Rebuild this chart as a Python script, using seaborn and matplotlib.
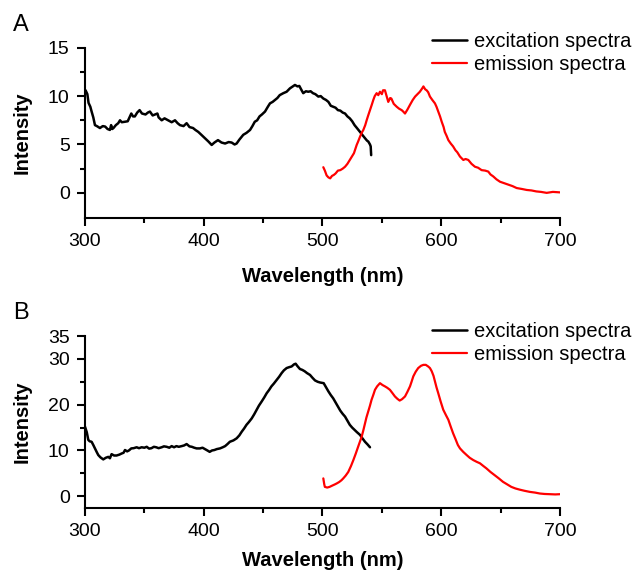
import numpy as np
import pandas as pd
import matplotlib
matplotlib.use('Agg')
import matplotlib.pyplot as plt
import seaborn as sns

# === Data ===
# Panel A - excitation
wl_ex_a = [300.5, 302, 303, 304.5, 305.6, 307, 308.4, 310, 312.6, 315, 317, 319, 321, 322, 323, 324, 326, 328,
           329.5, 331, 333.7, 336, 339, 340.5, 342, 344, 346, 348, 351, 353, 354.7, 357, 359, 361, 362, 364.6,
           367, 370, 373, 375.8, 378, 380, 383, 385.6, 388, 391, 393, 395.4, 398, 401, 404, 406.7, 409, 412,
           415, 418, 421, 423.5, 426, 427.7, 430, 433.3, 436, 439, 441, 443, 445, 447, 449, 451.6, 454, 455.8,
           458, 460, 462, 464, 467, 469.8, 472.6, 475, 476.8, 479, 480.5, 482, 483.8, 486, 488, 490, 492, 494,
           496.5, 498.5, 500.7, 503, 505, 507, 509, 511, 513, 515, 517, 519, 521, 523, 525, 527, 529, 531.6,
           533.5, 535.8, 537.5, 538.6, 540, 540.6, 541]
int_ex_a = [10.6, 10.2, 9.3, 8.9, 8.4, 7.8, 7.0, 6.9, 6.7, 6.9, 6.85, 6.6, 6.5, 7.0, 6.6, 6.7, 7.0, 7.2,
            7.5, 7.3, 7.35, 7.4, 8.2, 7.9, 7.9, 8.3, 8.55, 8.2, 8.1, 8.3, 8.4, 8.0, 8.1, 8.2, 7.8, 7.5,
            7.7, 7.5, 7.3, 7.5, 7.2, 7.0, 6.9, 7.2, 6.8, 6.7, 6.5, 6.3, 6.0, 5.65, 5.3, 4.95, 5.2, 5.45,
            5.2, 5.1, 5.25, 5.2, 5.0, 5.1, 5.5, 6.0, 6.2, 6.5, 6.9, 7.35, 7.5, 7.9, 8.1, 8.4, 8.9, 9.25,
            9.4, 9.6, 9.8, 10.1, 10.3, 10.45, 10.8, 11.0, 11.15, 11.0, 11.05, 10.7, 10.3, 10.5, 10.45, 10.5, 10.3, 10.2,
            9.95, 10.0, 9.75, 9.6, 9.4, 9.0, 8.9, 8.8, 8.55, 8.5, 8.3, 8.2, 7.9, 7.7, 7.4, 7.0, 6.7, 6.3,
            6.0, 5.65, 5.4, 5.3, 5.0, 4.8, 3.9]

# Panel A - emission
wl_em_a = [500.7, 502, 503.5, 505, 506.5, 508, 509.5, 511, 513, 515, 517, 519, 521, 523, 525, 526.5, 528.8, 530,
           531.6, 533, 534.4, 536, 537.2, 538.5, 540, 541.5, 542.8, 544, 545.6, 547, 548.4, 550, 551, 552.6,
           554, 555.4, 557, 558, 560, 562.5, 564.5, 566.7, 568, 569.5, 571.5, 573.7, 576, 578, 580, 582, 584,
           585, 586.5, 587.7, 589, 590.5, 592.5, 594.7, 596, 597.5, 599, 600.4, 602, 603, 604.5, 606, 608,
           610, 612, 613.5, 615.8, 618.6, 620.5, 622.8, 625.5, 628.4, 631, 634, 637, 639.6, 641.5, 643.8,
           646.5, 649.5, 653, 656.5, 660, 663.5, 668, 672, 676, 680, 684, 688.8, 694, 700]
int_em_a = [2.65, 2.3, 1.8, 1.6, 1.5, 1.75, 1.85, 2.0, 2.3, 2.35, 2.5, 2.7, 3.0, 3.4, 3.8, 4.1, 4.95, 5.3,
            5.8, 6.2, 6.5, 7.0, 7.5, 8.0, 8.55, 9.1, 9.6, 10.0, 10.3, 10.1, 10.45, 10.2, 10.6, 10.6,
            10.0, 9.4, 9.8, 9.75, 9.2, 8.9, 8.7, 8.55, 8.4, 8.2, 8.6, 9.1, 9.6, 9.95, 10.2, 10.45, 10.8,
            11.0, 10.7, 10.6, 10.4, 9.95, 9.6, 9.25, 8.9, 8.4, 7.9, 7.35, 6.8, 6.3, 5.9, 5.45, 5.1,
            4.8, 4.4, 4.2, 3.75, 3.4, 3.5, 3.4, 3.0, 2.7, 2.6, 2.35, 2.3, 2.2, 1.9, 1.7,
            1.4, 1.15, 1.0, 0.85, 0.7, 0.5, 0.4, 0.3, 0.25, 0.15, 0.1, 0.0, 0.1, 0.05]

# Panel B - excitation
wl_ex_b = [300, 301.5, 302.8, 304, 305.6, 307, 308.4, 310, 311.2, 313, 315.4, 317.5, 319.6, 321, 322.4, 324.5,
           326.6, 329, 331, 332.5, 333.7, 335.5, 337, 339, 341, 343.5, 345.5, 347.7, 350, 352, 354, 356, 358,
           360, 362, 364.6, 366.5, 368.8, 371, 373, 375, 377, 379, 381.4, 383.5, 385.6, 388, 390, 392, 394,
           396.8, 399, 402.4, 405, 407, 409, 411, 413.7, 416, 418, 420, 422, 425, 427.7, 430, 432, 434, 436,
           438, 440.4, 442.5, 444.6, 446.5, 448.8, 451, 453, 455, 457, 459, 461.4, 463.5, 465.6, 467.5, 469.8,
           472, 474, 476, 477.4, 479, 481, 483, 485, 487, 489.5, 491.5, 493.7, 496, 497.9, 501, 503, 505, 507,
           509, 511, 513, 515, 517, 519, 521, 523, 525, 527, 529, 531.6, 533.5, 535.8, 538, 540]
int_ex_b = [15.2, 14.0, 12.3, 12.0, 11.9, 11.2, 10.45, 9.6, 9.0, 8.5, 8.05, 8.4, 8.6, 8.3, 9.2, 8.9,
            8.9, 9.1, 9.35, 9.5, 10.1, 9.8, 10.0, 10.45, 10.5, 10.7, 10.5, 10.7, 10.6, 10.8, 10.4, 10.5, 10.8,
            10.7, 10.5, 10.7, 10.9, 10.8, 10.6, 10.95, 10.7, 10.95, 10.8, 10.95, 11.1, 11.4, 10.9, 10.8, 10.6, 10.45,
            10.45, 10.6, 10.1, 9.7, 10.0, 10.1, 10.3, 10.45, 10.7, 10.95, 11.4, 11.9, 12.2, 12.65, 13.3, 14.1, 14.8, 15.6,
            16.2, 17.0, 17.9, 18.9, 19.8, 20.7, 21.6, 22.5, 23.2, 24.0, 24.6, 25.4, 26.1, 26.9, 27.5, 28.0,
            28.2, 28.35, 28.8, 28.95, 28.4, 27.8, 27.6, 27.3, 26.9, 26.5, 25.9, 25.3, 25.0, 24.85, 24.7, 23.8, 22.9, 22.1,
            21.4, 20.5, 19.6, 18.7, 18.0, 17.4, 16.5, 15.6, 15.0, 14.5, 14.0, 13.4, 12.7, 11.9, 11.3, 10.7]

# Panel B - emission
wl_em_b = [500.7, 501.5, 502, 504, 506, 508, 510.5, 512, 514, 516, 517.5, 519.5, 521.7, 524, 526, 528, 530,
           531.5, 533, 534.5, 535.8, 537, 538.5, 540, 541.3, 543, 544.2, 546, 548.4, 550.5, 552.6, 554.5,
           556.8, 559, 561, 563, 565, 567, 569.5, 571.5, 573.7, 575, 576.5, 578.5, 580.6, 583, 585, 587, 589,
           590.5, 592, 593.5, 594.7, 596, 597.5, 599.5, 601.7, 604, 606, 608, 610, 612, 614, 615.8, 618.5,
           621.4, 624, 627, 630, 632.6, 635.5, 638, 641.5, 645, 648.5, 652, 655.5, 659, 662.5, 666, 670,
           674.7, 679, 683, 687, 691.6, 696, 700]
int_em_b = [3.9, 2.6, 2.05, 1.9, 2.05, 2.3, 2.6, 2.8, 3.1, 3.5, 3.9, 4.5, 5.3, 6.6, 7.9, 9.3, 10.8,
            11.9, 13.0, 14.5, 15.9, 17.2, 18.5, 19.8, 21.05, 22.3, 23.25, 24.0, 24.7, 24.3, 24.0, 23.7,
            23.25, 22.5, 21.8, 21.3, 20.9, 21.2, 21.8, 22.8, 24.0, 25.0, 26.2, 27.2, 28.0, 28.5, 28.7, 28.7, 28.35,
            28.0, 27.3, 26.3, 25.1, 23.8, 22.5, 20.7, 18.9, 17.7, 16.7, 15.2, 13.75, 12.5, 11.2, 10.45, 9.7,
            9.0, 8.4, 7.9, 7.5, 7.2, 6.6, 6.1, 5.3, 4.6, 3.9, 3.15, 2.6, 2.05, 1.7, 1.45, 1.2,
            0.95, 0.8, 0.6, 0.5, 0.45, 0.4, 0.45]

# === Style ===
sns.set_style('ticks')
plt.rcParams['font.family'] = ['Liberation Sans', 'DejaVu Sans']
plt.rcParams['axes.linewidth'] = 1.5
plt.rcParams['text.color'] = 'black'
plt.rcParams['axes.labelcolor'] = 'black'
plt.rcParams['xtick.color'] = 'black'
plt.rcParams['ytick.color'] = 'black'
plt.rcParams['axes.edgecolor'] = 'black'

fig = plt.figure(figsize=(6.37, 5.7), dpi=100)
ax_a = fig.add_axes([0.1334, 0.6175, 0.7457, 0.2988])
ax_b = fig.add_axes([0.1334, 0.1093, 0.7457, 0.3012])

panels = [
    (ax_a, wl_ex_a, int_ex_a, wl_em_a, int_em_a, (-2.6, 15), [0, 5, 10, 15], [2.5, 7.5, 12.5], 'A', 0.9565, 0.944, -0.285),
    (ax_b, wl_ex_b, int_ex_b, wl_em_b, int_em_b, (-2.5, 35), [0, 10, 20, 30, 35], [5, 15, 25], 'B', 0.451, 0.435, -0.255),
]

for ax, wx, ix, wm, im, ylim, yt, ytm, letter, ly, legy, xly in panels:
    sns.lineplot(x=wx, y=ix, ax=ax, color='black', lw=1.8, label='excitation spectra', sort=False)
    sns.lineplot(x=wm, y=im, ax=ax, color='#ff0000', lw=1.6, label='emission spectra', sort=False)
    ax.set_xlim(300, 700)
    ax.set_ylim(*ylim)
    ax.set_xticks([300, 400, 500, 600, 700])
    ax.set_xticks([350, 450, 550, 650], minor=True)
    ax.set_yticks(yt)
    ax.set_yticks(ytm, minor=True)
    sns.despine(ax=ax)
    ax.tick_params(which='major', direction='out', length=6, width=1.5, labelsize=14, pad=5)
    ax.tick_params(which='minor', direction='out', length=3.5, width=1.5)
    ax.set_xlabel('Wavelength (nm)', fontsize=14.5, fontweight='bold')
    ax.set_ylabel('Intensity', fontsize=14.5, fontweight='bold')
    ax.xaxis.set_label_coords(0.5, xly)
    ax.yaxis.set_label_coords(-0.112, 0.5)
    ax.legend(loc='upper left', bbox_to_anchor=(0.678, legy), bbox_transform=fig.transFigure,
              frameon=False, fontsize=14.5, handlelength=1.75, handletextpad=0.35,
              labelspacing=0.2, borderpad=0, borderaxespad=0)
    fig.text(0.02, ly, letter, fontsize=17, ha='left', va='center')

plt.savefig('out.png', dpi=100)
plt.close()
